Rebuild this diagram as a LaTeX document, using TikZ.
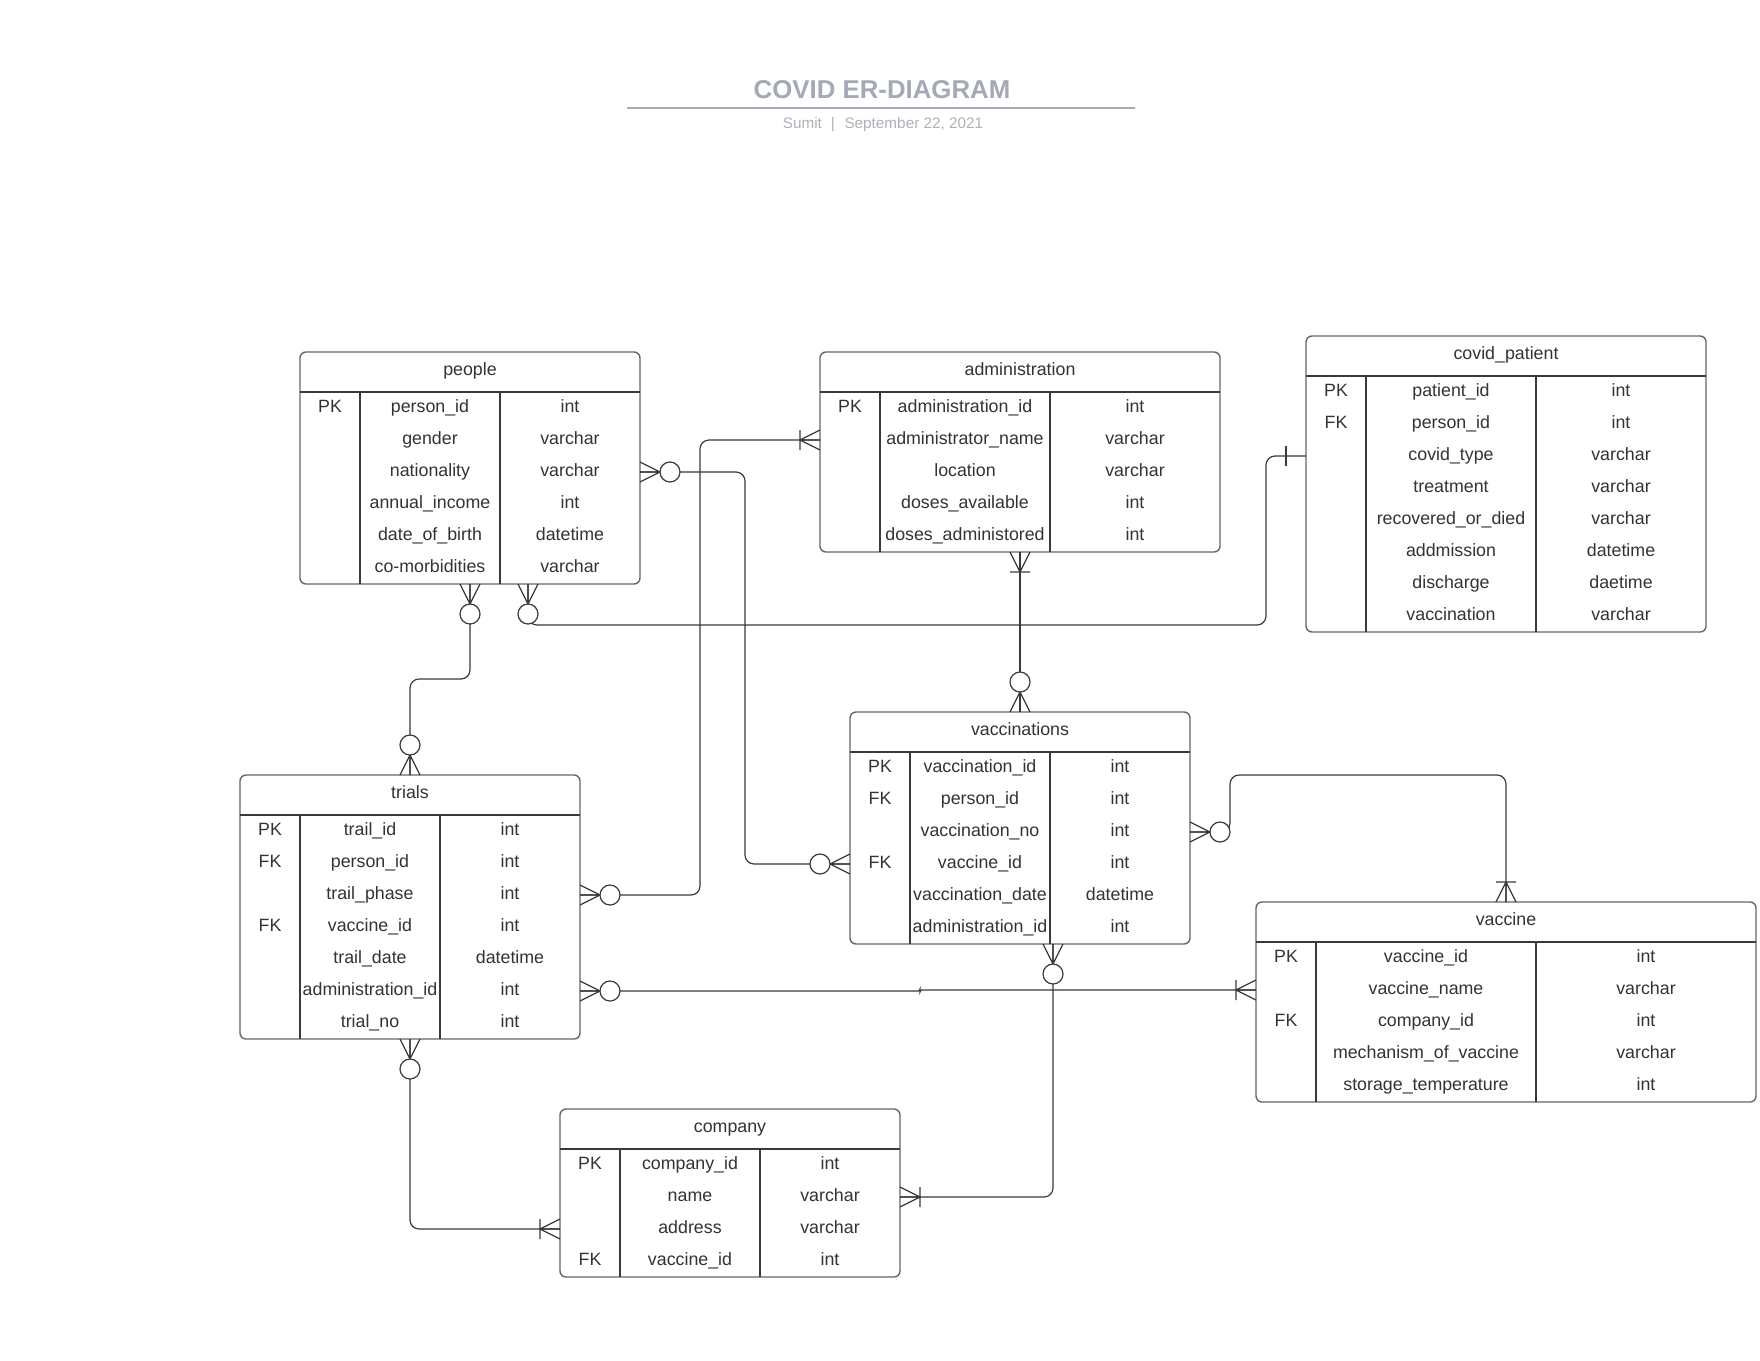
\documentclass[tikz,border=0pt]{standalone}
\usepackage{fontspec}
\setmainfont{Liberation Sans}
\usetikzlibrary{calc}

\definecolor{ink}{HTML}{333333}
\definecolor{frame}{HTML}{666666}
\definecolor{rule}{HTML}{3A3A3A}
\definecolor{titlegray}{HTML}{A3AAB5}
\definecolor{subgray}{HTML}{ADB2BA}

\tikzset{
  tablebox/.style={draw=frame, line width=0.7pt, rounded corners=3pt, inner sep=0pt, outer sep=0pt},
  rowbox/.style={inner sep=0pt, outer sep=0pt},
  grid/.style={draw=rule, line width=0.6pt},
  cell/.style={anchor=base, inner sep=0pt, text=ink, font=\fontsize{8.9pt}{10pt}\selectfont},
  rel/.style={draw=rule, line width=0.6pt, rounded corners=4.5pt},
  mk/.style={draw=rule, line width=0.6pt, sharp corners},
  % zero or many
  pics/zmany/.style={code={
    \draw[mk] (0,-10) -- (20,0) -- (0,10) (0,0) -- (20,0);
    \draw[mk, fill=white] (30,0) circle[radius=5pt];}},
  % one or many
  pics/omany/.style={code={
    \draw[mk] (0,-10) -- (20,0) -- (0,10) (0,0) -- (20,0) (20,-10) -- (20,10);}},
  % exactly one
  pics/onebar/.style={code={
    \draw[mk] (20,-10) -- (20,10);}},
}

% #1 name, #2 left, #3 top, #4 width, #5 offset of type column,
% #6 number of rows, #7 title, #8 key/field/type list
\newcommand\ertable[8]{%
  \node[tablebox, anchor=north west, minimum width=#4*0.5pt,
        minimum height=(40+32*#6)*0.5pt] (#1) at (#2,#3) {};
  \node[cell] (#1-title) at ({#2+#4/2},{#3+23.5}) {#7};
  \draw[grid] (#2,#3+40) -- ++(#4,0);
  \draw[grid] (#2+60,#3+40) -- ++(0,32*#6);
  \draw[grid] (#2+#5,#3+40) -- ++(0,32*#6);
  \foreach \ekey/\efield/\etype [count=\i] in {#8} {
    \node[rowbox, minimum width=#4*0.5pt, minimum height=16pt]
      (#1-\i) at ({#2+#4/2},{#3+24+32*\i}) {};
    \node[cell] at ({#2+30},{#3+28+32*\i}) {\ekey};
    \node[cell] at ({#2+(60+#5)/2},{#3+28+32*\i}) {\efield};
    \node[cell] at ({#2+(#5+#4)/2},{#3+28+32*\i}) {\etype};
  }%
}

\begin{document}
\begin{tikzpicture}[x=0.5pt, y=-0.5pt]
  \fill[white] (0,0) rectangle (1760,1360);
  \useasboundingbox (0,0) rectangle (1760,1360);

  % heading
  \node[font=\fontsize{12.9pt}{15pt}\selectfont\bfseries, text=titlegray,
        anchor=base, inner sep=0pt] (title) at (882,98.3) {COVID ER-DIAGRAM};
  \draw[titlegray, line width=1pt] (627,107.7) -- (1135,107.7);
  \node[font=\fontsize{7.65pt}{9pt}\selectfont, text=subgray, anchor=base,
        inner sep=0pt] (byline) at (883,128.3)
        {Sumit\hspace{4.5pt}|\hspace{4.8pt}September 22, 2021};

  % tables
  \ertable{people}{300}{352}{340}{200}{6}{people}{
    PK/person\_id/int, {}/gender/varchar, {}/nationality/varchar,
    {}/annual\_income/int, {}/date\_of\_birth/datetime, {}/co-morbidities/varchar}
  \ertable{admin}{820}{352}{400}{230}{5}{administration}{
    PK/administration\_id/int, {}/administrator\_name/varchar, {}/location/varchar,
    {}/doses\_available/int, {}/doses\_administored/int}
  \ertable{covid}{1306}{336}{400}{230}{8}{covid\_patient}{
    PK/patient\_id/int, FK/person\_id/int, {}/covid\_type/varchar,
    {}/treatment/varchar, {}/recovered\_or\_died/varchar, {}/addmission/datetime,
    {}/discharge/daetime, {}/vaccination/varchar}
  \ertable{trials}{240}{775}{340}{200}{7}{trials}{
    PK/trail\_id/int, FK/person\_id/int, {}/trail\_phase/int, FK/vaccine\_id/int,
    {}/trail\_date/datetime, {}/administration\_id/int, {}/trial\_no/int}
  \ertable{vacc}{850}{712}{340}{200}{6}{vaccinations}{
    PK/vaccination\_id/int, FK/person\_id/int, {}/vaccination\_no/int,
    FK/vaccine\_id/int, {}/vaccination\_date/datetime, {}/administration\_id/int}
  \ertable{vaccine}{1256}{902}{500}{280}{5}{vaccine}{
    PK/vaccine\_id/int, {}/vaccine\_name/varchar, FK/company\_id/int,
    {}/mechanism\_of\_vaccine/varchar, {}/storage\_temperature/int}
  \ertable{company}{560}{1109}{340}{200}{4}{company}{
    PK/company\_id/int, {}/name/varchar, {}/address/varchar, FK/vaccine\_id/int}

  % relationships
  \draw[rel] (people-3.east) -- ++(105,0) |- (vacc-4.west);
  \draw[rel] (trials-3.east) -- ++(120,0) |- (admin-2.west);
  \draw[rel] (people.south) -- ++(0,95) -| (trials.north);
  \draw[rel] ($(people.south)+(58,0)$) -- ++(0,41)
             -| ($(covid-3.west)+(-40,0)$) -- (covid-3.west);
  \draw[rel] (admin.south) -- (vacc.north);
  \draw[rel] (vacc-3.east) -- ++(40,0) -- ++(0,-57) -| (vaccine.north);
  \draw[rel, rounded corners=1pt] (trials-6.east) -- ++(340,0) |- (vaccine-2.west);
  \draw[rel] ($(vacc.south)+(33,0)$) |- (company-2.east);
  \draw[rel] (trials.south) |- (company-3.west);

  % cardinality marks
  \pic at (people-3.east) {zmany};
  \pic[rotate=180] at (vacc-4.west) {zmany};
  \pic at (trials-3.east) {zmany};
  \pic[rotate=180] at (admin-2.west) {omany};
  \pic[rotate=-90] at (people.south) {zmany};
  \pic[rotate=90] at (trials.north) {zmany};
  \pic[rotate=-90] at ($(people.south)+(58,0)$) {zmany};
  \pic[rotate=180] at (covid-3.west) {onebar};
  \pic[rotate=-90] at (admin.south) {omany};
  \pic[rotate=90] at (vacc.north) {zmany};
  \pic at (vacc-3.east) {zmany};
  \pic[rotate=90] at (vaccine.north) {omany};
  \pic at (trials-6.east) {zmany};
  \pic[rotate=180] at (vaccine-2.west) {omany};
  \pic[rotate=-90] at ($(vacc.south)+(33,0)$) {zmany};
  \pic at (company-2.east) {omany};
  \pic[rotate=-90] at (trials.south) {zmany};
  \pic[rotate=180] at (company-3.west) {omany};
\end{tikzpicture}
\end{document}
